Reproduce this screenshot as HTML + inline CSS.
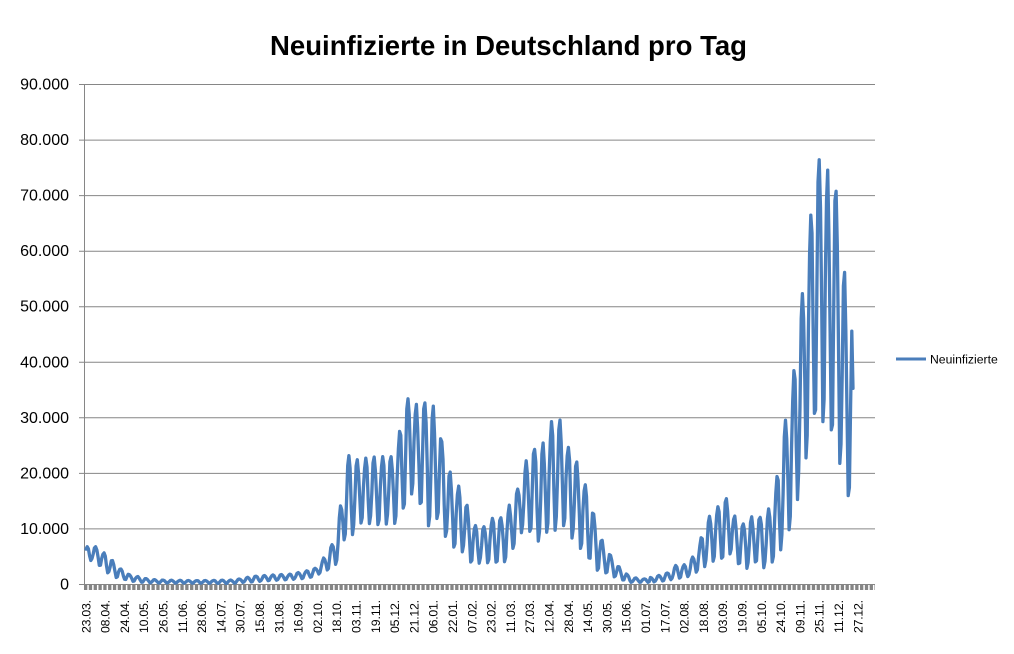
<!DOCTYPE html>
<html>
<head>
<meta charset="utf-8">
<style>
  html,body{margin:0;padding:0;background:#fff;overflow:hidden;}
  svg{display:block;font-family:"Liberation Sans",Arial,sans-serif;}
</style>
</head>
<body>
<svg width="1014" height="654" viewBox="0 0 1014 654" xmlns="http://www.w3.org/2000/svg">
  <rect x="0" y="0" width="1014" height="654" fill="#fff"/>
  <!-- Title -->
  <text x="270" y="55" font-size="27.5" font-weight="bold" fill="#000" textLength="477" lengthAdjust="spacingAndGlyphs">Neuinfizierte in Deutschland pro Tag</text>

  <!-- gridlines -->
  <g stroke="#868686" stroke-width="1">
    <line x1="79" y1="84.5" x2="875" y2="84.5"/>
    <line x1="79" y1="140.1" x2="875" y2="140.1"/>
    <line x1="79" y1="195.6" x2="875" y2="195.6"/>
    <line x1="79" y1="251.2" x2="875" y2="251.2"/>
    <line x1="79" y1="306.7" x2="875" y2="306.7"/>
    <line x1="79" y1="362.3" x2="875" y2="362.3"/>
    <line x1="79" y1="417.8" x2="875" y2="417.8"/>
    <line x1="79" y1="473.4" x2="875" y2="473.4"/>
    <line x1="79" y1="528.9" x2="875" y2="528.9"/>
    <line x1="79" y1="584.5" x2="875" y2="584.5"/>
    <line x1="84.5" y1="84.5" x2="84.5" y2="584.5"/>
  </g>
  <!-- dense category ticks -->
  <line x1="84" y1="587.5" x2="875" y2="587.5" stroke="#858585" stroke-width="5" stroke-dasharray="3.3 1.52"/>

  <!-- y labels -->
  <g font-size="16" fill="#000" text-anchor="end">
    <text x="69" y="89.5">90.000</text>
    <text x="69" y="145.1">80.000</text>
    <text x="69" y="200.6">70.000</text>
    <text x="69" y="256.2">60.000</text>
    <text x="69" y="311.7">50.000</text>
    <text x="69" y="367.3">40.000</text>
    <text x="69" y="422.8">30.000</text>
    <text x="69" y="478.4">20.000</text>
    <text x="69" y="533.9">10.000</text>
    <text x="69" y="589.5">0</text>
  </g>

  <!-- x labels -->
  <g font-size="12.3" fill="#000" text-anchor="end">
    <text transform="translate(86.0,600) rotate(-90)" dy="4.3" textLength="33">23.03.</text>
    <text transform="translate(105.3,600) rotate(-90)" dy="4.3" textLength="33">08.04.</text>
    <text transform="translate(124.6,600) rotate(-90)" dy="4.3" textLength="33">24.04.</text>
    <text transform="translate(143.9,600) rotate(-90)" dy="4.3" textLength="33">10.05.</text>
    <text transform="translate(163.2,600) rotate(-90)" dy="4.3" textLength="33">26.05.</text>
    <text transform="translate(182.5,600) rotate(-90)" dy="4.3" textLength="33">11.06.</text>
    <text transform="translate(201.8,600) rotate(-90)" dy="4.3" textLength="33">28.06.</text>
    <text transform="translate(221.1,600) rotate(-90)" dy="4.3" textLength="33">14.07.</text>
    <text transform="translate(240.4,600) rotate(-90)" dy="4.3" textLength="33">30.07.</text>
    <text transform="translate(259.7,600) rotate(-90)" dy="4.3" textLength="33">15.08.</text>
    <text transform="translate(279.0,600) rotate(-90)" dy="4.3" textLength="33">31.08.</text>
    <text transform="translate(298.3,600) rotate(-90)" dy="4.3" textLength="33">16.09.</text>
    <text transform="translate(317.6,600) rotate(-90)" dy="4.3" textLength="33">02.10.</text>
    <text transform="translate(336.9,600) rotate(-90)" dy="4.3" textLength="33">18.10.</text>
    <text transform="translate(356.2,600) rotate(-90)" dy="4.3" textLength="33">03.11.</text>
    <text transform="translate(375.5,600) rotate(-90)" dy="4.3" textLength="33">19.11.</text>
    <text transform="translate(394.8,600) rotate(-90)" dy="4.3" textLength="33">05.12.</text>
    <text transform="translate(414.1,600) rotate(-90)" dy="4.3" textLength="33">21.12.</text>
    <text transform="translate(433.4,600) rotate(-90)" dy="4.3" textLength="33">06.01.</text>
    <text transform="translate(452.7,600) rotate(-90)" dy="4.3" textLength="33">22.01.</text>
    <text transform="translate(472.0,600) rotate(-90)" dy="4.3" textLength="33">07.02.</text>
    <text transform="translate(491.3,600) rotate(-90)" dy="4.3" textLength="33">23.02.</text>
    <text transform="translate(510.6,600) rotate(-90)" dy="4.3" textLength="33">11.03.</text>
    <text transform="translate(529.9,600) rotate(-90)" dy="4.3" textLength="33">27.03.</text>
    <text transform="translate(549.2,600) rotate(-90)" dy="4.3" textLength="33">12.04.</text>
    <text transform="translate(568.5,600) rotate(-90)" dy="4.3" textLength="33">28.04.</text>
    <text transform="translate(587.8,600) rotate(-90)" dy="4.3" textLength="33">14.05.</text>
    <text transform="translate(607.1,600) rotate(-90)" dy="4.3" textLength="33">30.05.</text>
    <text transform="translate(626.4,600) rotate(-90)" dy="4.3" textLength="33">15.06.</text>
    <text transform="translate(645.7,600) rotate(-90)" dy="4.3" textLength="33">01.07.</text>
    <text transform="translate(665.0,600) rotate(-90)" dy="4.3" textLength="33">17.07.</text>
    <text transform="translate(684.3,600) rotate(-90)" dy="4.3" textLength="33">02.08.</text>
    <text transform="translate(703.6,600) rotate(-90)" dy="4.3" textLength="33">18.08.</text>
    <text transform="translate(722.9,600) rotate(-90)" dy="4.3" textLength="33">03.09.</text>
    <text transform="translate(742.2,600) rotate(-90)" dy="4.3" textLength="33">19.09.</text>
    <text transform="translate(761.5,600) rotate(-90)" dy="4.3" textLength="33">05.10.</text>
    <text transform="translate(780.8,600) rotate(-90)" dy="4.3" textLength="33">24.10.</text>
    <text transform="translate(800.1,600) rotate(-90)" dy="4.3" textLength="33">09.11.</text>
    <text transform="translate(819.4,600) rotate(-90)" dy="4.3" textLength="33">25.11.</text>
    <text transform="translate(838.7,600) rotate(-90)" dy="4.3" textLength="33">11.12.</text>
    <text transform="translate(858.0,600) rotate(-90)" dy="4.3" textLength="33">27.12.</text>
  </g>

  <!-- data line -->
  <path id="ln" d="" fill="none" stroke="#4a7ebb" stroke-width="3.3" stroke-linejoin="round" stroke-linecap="round"/>

  <!-- legend -->
  <line x1="896" y1="359" x2="926" y2="359" stroke="#4a7ebb" stroke-width="3"/>
  <text x="930" y="363.5" font-size="12.2" fill="#000">Neuinfizierte</text>
</svg>
<script>
(function(){
  var HI=[[85,6.8],[90,6.8],[97,6.8],[104,5.7],[115,3.9],[122,2.6],[130,1.7],[139,1.4],[147,1.0],[160,0.8],[200,0.7],[230,0.8],[240,1.0],[250,1.4],[262,1.6],[280,1.8],[288,1.8],[300,2.2],[310,2.6],[318,3.1],[325,5.2],[330,6.6],[335,8],[343,17],[349,23.3],[358,22.4],[367,22.8],[377,23],[395,23],[402,30],[409,34],[417,32.3],[425,32.7],[435,32],[442,25.5],[450,20.3],[459,17.6],[467,14.3],[476,10.4],[484,10.4],[493,12],[502,12],[510,14.5],[519,17.6],[527,22.8],[536,24.6],[545,25.7],[552,29.6],[561,29.6],[568,24.8],[577,22],[586,17.6],[594,12.5],[603,7.5],[612,4.8],[619,3.2],[630,1.3],[645,1.0],[660,1.7],[670,2.2],[677,3.7],[687,3.5],[696,5.8],[703,9.4],[710,12.5],[718,14],[726,15.6],[734,12.5],[742,10.7],[751,12.2],[759,12],[767,12.5],[777,19.4],[784,28.1],[793,37],[801,50],[810,65.5],[819,76.5],[828,74.5],[836,71],[844,57],[852,45.6]];
  var LO=[[85,4.1],[93,4.4],[101,3.2],[112,1.4],[118,1.2],[135,0.5],[150,0.3],[230,0.2],[245,0.4],[270,0.7],[300,1.0],[313,1.4],[327,2.6],[337,3.8],[345,8.6],[353,9],[363,11.6],[372,10.7],[395,11],[406,14.7],[413,16.7],[422,14],[430,9.8],[439,12.5],[448,7.1],[456,6.6],[464,5.7],[473,3.5],[482,4],[490,3.9],[499,4.1],[508,4.1],[515,7.5],[523,9.8],[532,9.5],[542,6.8],[549,10.7],[557,9.5],[566,11],[574,7.5],[583,6.1],[592,4.1],[599,2.1],[607,2.1],[616,1.2],[630,0.4],[650,0.4],[665,0.7],[690,1.5],[707,3.5],[715,4.4],[723,4.8],[732,5.7],[738,3.8],[747,2.9],[755,4.1],[764,3],[772,4],[782,6.6],[789,9.8],[798,15.6],[807,23.7],[814,30.9],[823,29.3],[832,27.7],[840,21.6],[848,16]];
  function it(a,x){
    if(x<=a[0][0]) return a[0][1];
    for(var i=1;i<a.length;i++){
      if(x<=a[i][0]){var x0=a[i-1][0],y0=a[i-1][1],x1=a[i][0],y1=a[i][1];return y0+(y1-y0)*(x-x0)/(x1-x0);}
    }
    return a[a.length-1][1];
  }
  var pat=[0.08,0.5,0.9,1,0.82,0.4,0];
  var pts=[];
  for(var d=0;d<=636;d++){
    var x=86+d*1.206;
    var p=x<650?2:4;
    var h=it(HI,x), l=it(LO,x);
    var w=pat[(d+p)%7];
    var j=((d*37)%11-5)*0.012;
    if(w>0.05 && w<0.95) w=Math.min(1,Math.max(0,w+j));
    var v=l+(h-l)*w;
    if(d==635) v=45.6;
    if(d==636) v=35.3;
    pts.push(x.toFixed(1)+','+(584.5-v*5.5556).toFixed(1));
  }
  document.getElementById('ln').setAttribute('d','M'+pts.join('L'));
})();
</script>
</body>
</html>
